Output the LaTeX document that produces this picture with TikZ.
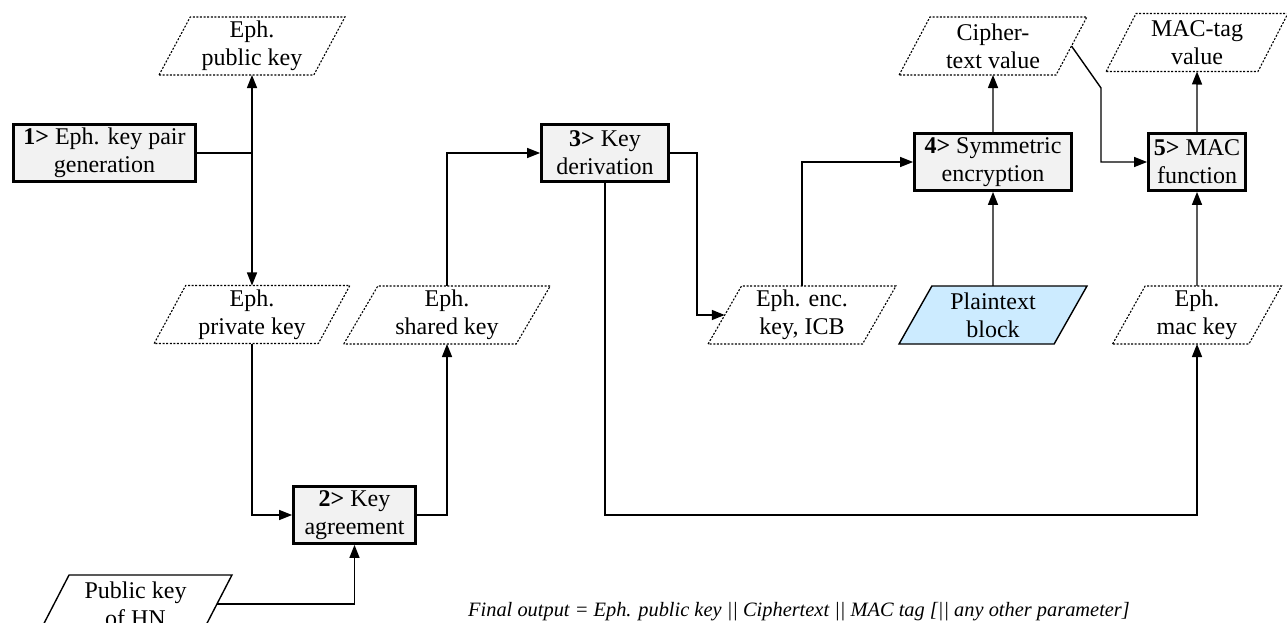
\documentclass[tikz,border=0pt]{standalone}
\usepackage{fontspec}
\setmainfont{Liberation Serif}
\usetikzlibrary{shapes.geometric,arrows.meta}
\definecolor{boxfill}{HTML}{F2F2F2}
\definecolor{plainfill}{HTML}{CCEBFF}
\begin{document}
\begin{tikzpicture}[x=1pt,y=-1pt,
  every node/.style={font=\fontsize{24}{28}\selectfont, align=center},
  stepbox/.style={draw, line width=2.8pt, fill=boxfill, inner sep=1pt, minimum height=57},
  para/.style={trapezium, trapezium left angle=63.4, trapezium right angle=116.6,
    trapezium stretches=true, inner sep=1pt, outer sep=0pt, minimum height=58},
  datapara/.style={para, draw, line width=1.1pt, dash pattern=on 2pt off 1.6pt},
  solidpara/.style={para, draw, line width=1.4pt},
  conn/.style={line width=1.4pt},
  arr/.style={conn, -{Triangle[length=13pt,width=10pt]}}]
\clip (0,0) rectangle (1287,623);
\fill[white] (0,0) rectangle (1287,623);

% process boxes
\node[stepbox, minimum width=182] (b1) at (104.5,153) {\textbf{1>} Eph. key pair\\generation};
\node[stepbox, minimum width=122] (b2) at (354.5,515) {\textbf{2>} Key\\agreement};
\node[stepbox, minimum width=127] (b3) at (605,153) {\textbf{3>} Key\\derivation};
\node[stepbox, minimum width=157] (b4) at (993,162) {\textbf{4>} Symmetric\\encryption};
\node[stepbox, minimum width=97] (b5) at (1197,162) {\textbf{5>} MAC\\function};

% data parallelograms
\node[datapara, minimum width=186] (pub) at (252,46) {Eph.\\public key};
\node[datapara, minimum width=196] (priv) at (252,314.5) {Eph.\\private key};
\node[datapara, minimum width=207] (shared) at (447,315) {Eph.\\shared key};
\node[datapara, minimum width=188] (enc) at (802,315) {Eph. enc.\\key, ICB};
\node[solidpara, fill=plainfill, minimum width=188] (plain) at (993,315) {Plaintext\\block};
\node[datapara, minimum width=169] (mackey) at (1197,315) {Eph.\\mac key};
\node[datapara, minimum width=188] (cipher) at (993,46) {Cipher-\\text value};
\node[datapara, minimum width=182] (mactag) at (1197,42.5) {MAC-tag\\value};
\node[solidpara, minimum width=193] (hn) at (135.5,604) {Public key\\of HN};

% caption
\node[anchor=base west, font=\fontsize{20.4}{24}\selectfont\itshape, inner sep=0] (cap) at (468,616)
  {Final output = Eph. public key || Ciphertext || MAC tag [|| any other parameter]};

% connectors
\draw[arr] (b1.east) -| (pub.south);
\draw[arr] (b1.east) -| (priv.north);
\draw[arr] (priv.south) |- (b2.west);
\draw[arr] (b2.east) -| (shared.south);
\draw[arr] (hn.east) -| (b2.south);
\draw[arr] (shared.north) |- (b3.west);
\coordinate (c3) at (697,153);
\draw[arr] (b3.east) -- (c3) |- (enc.west);
\draw[arr] (enc.north) |- (b4.west);
\draw[arr] (plain.north) -- (b4.south);
\draw[arr] (b4.north) -- (cipher.south);
\coordinate (ck) at (1101,88);
\draw[arr] (cipher.east) -- (ck) |- (b5.west);
\draw[arr] (b5.north) -- (mactag.south);
\draw[arr] (mackey.north) -- (b5.south);
\coordinate (lp) at (605,515);
\draw[arr] (b3.south) -- (lp) -| (mackey.south);
\end{tikzpicture}
\end{document}
